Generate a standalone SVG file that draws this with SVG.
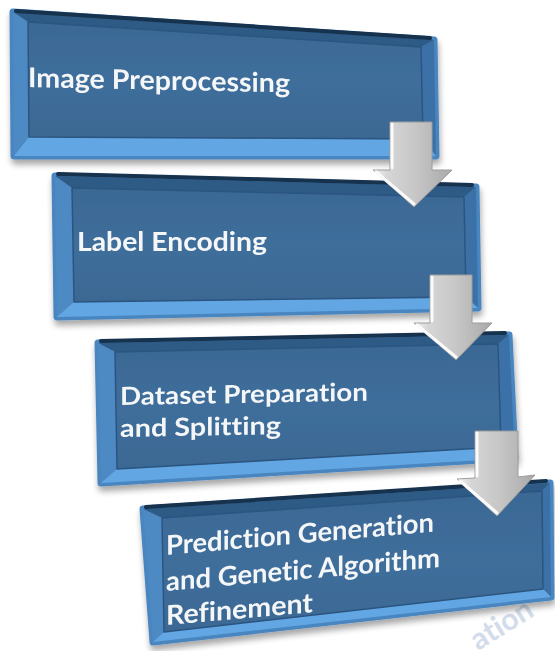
<svg xmlns="http://www.w3.org/2000/svg" width="555" height="651" viewBox="0 0 555 651">
  <defs>
    <filter id="drop" x="-10%" y="-10%" width="120%" height="130%">
      <feGaussianBlur in="SourceAlpha" stdDeviation="3"/>
      <feOffset dx="1" dy="5" result="b"/>
      <feComponentTransfer><feFuncA type="linear" slope="0.35"/></feComponentTransfer>
      <feMerge><feMergeNode/><feMergeNode in="SourceGraphic"/></feMerge>
    </filter>
    <filter id="soft" x="-5%" y="-5%" width="110%" height="110%">
      <feGaussianBlur stdDeviation="0.7"/>
    </filter>
    <linearGradient id="arrowFace" x1="0" y1="0" x2="1" y2="0">
      <stop offset="0" stop-color="#f6f6f6"/>
      <stop offset="0.18" stop-color="#d6d6d6"/>
      <stop offset="0.55" stop-color="#c6c6c6"/>
      <stop offset="1" stop-color="#a9a9a9"/>
    </linearGradient>
    <linearGradient id="faceGrad" x1="0" y1="0" x2="0" y2="1">
      <stop offset="0" stop-color="#3a6894"/>
      <stop offset="0.5" stop-color="#3f6e9b"/>
      <stop offset="1" stop-color="#3b6893"/>
    </linearGradient>
  </defs>
  <style>
    .outer { fill: #4a86c0; stroke: #4a86c0; stroke-width: 7; stroke-linejoin: round; }
    .topb { fill: #2e5a86; }
    .topline { fill: none; stroke: #15304d; stroke-width: 4; stroke-linecap: round; }
    .leftb { fill: #4d8ac4; }
    .rightb { fill: #3a71a7; }
    .botb { fill: #62a7e3; }
    .face { fill: url(#faceGrad); stroke: #2c5580; stroke-width: 1.5; stroke-linejoin: round; }
    .label { font-family: Lato, "Open Sans", "Liberation Sans", sans-serif; font-weight: bold; font-size: 27px; fill: #f4f6f8; font-variant-ligatures: none; }
    .label.tight { font-size: 25px; }
    .arrow { fill: url(#arrowFace); stroke: #9c9c9c; stroke-width: 1; stroke-linejoin: round; }
    .hl { fill: none; stroke: #ffffff; stroke-width: 3; stroke-linejoin: round; stroke-linecap: round; opacity: 0.9; }
    .mark { font-family: Lato, "Liberation Sans", sans-serif; font-weight: bold; font-size: 30px; fill: #d2dcea; font-variant-ligatures: none; }
  </style>

  <!-- faint watermark fragment -->
  <text class="mark" transform="translate(478,651) rotate(-32)">ation</text>

  <!-- step 1 -->
  <g id="step-1" filter="url(#drop)">
    <g filter="url(#soft)">
      <polygon class="outer" points="13,12 434,40 436,156 14,156"/>
      <polygon class="topb" points="13,12 434,40 421,47 28,22"/>
      <polygon class="leftb" points="13,12 28,22 29,137 14,156"/>
      <polygon class="rightb" points="434,40 436,156 423,139 421,47"/>
      <polygon class="botb" points="14,156 436,156 423,139 29,137"/>
      <polygon class="face" points="28,22 421,47 423,139 29,137"/>
      <line class="topline" x1="16" y1="11" x2="430" y2="38"/>
    </g>
    <text class="label" transform="translate(28,87) skewY(1.2)" textLength="262" lengthAdjust="spacingAndGlyphs">Image Preprocessing</text>
  </g>

  <!-- step 2 -->
  <g id="step-2" filter="url(#drop)">
    <g filter="url(#soft)">
      <polygon class="outer" points="55,176 476,187 478,308 57,317"/>
      <polygon class="topb" points="55,176 476,187 464,197 72,188"/>
      <polygon class="leftb" points="55,176 72,188 74,302 57,317"/>
      <polygon class="rightb" points="476,187 478,308 466,297 464,197"/>
      <polygon class="botb" points="57,317 478,308 466,297 74,302"/>
      <polygon class="face" points="72,188 464,197 466,297 74,302"/>
      <line class="topline" x1="58" y1="174" x2="472" y2="185"/>
    </g>
    <text class="label" x="77" y="251" textLength="190" lengthAdjust="spacingAndGlyphs">Label Encoding</text>
  </g>

  <!-- step 3 -->
  <g id="step-3" filter="url(#drop)">
    <g filter="url(#soft)">
      <polygon class="outer" points="98,343 509,335 515,458 101,483"/>
      <polygon class="topb" points="98,343 509,335 498,344 115,352"/>
      <polygon class="leftb" points="98,343 115,352 117,469 101,483"/>
      <polygon class="rightb" points="509,335 515,458 501,447 498,344"/>
      <polygon class="botb" points="101,483 515,458 501,447 117,469"/>
      <polygon class="face" points="115,352 498,344 501,447 117,469"/>
      <line class="topline" x1="101" y1="341" x2="505" y2="333"/>
    </g>
    <text class="label tight" transform="translate(120,405) skewY(-1)" textLength="248" lengthAdjust="spacingAndGlyphs">Dataset Preparation</text>
    <text class="label tight" transform="translate(120,437) skewY(-1)" textLength="161" lengthAdjust="spacingAndGlyphs">and Splitting</text>
  </g>

  <!-- step 4 -->
  <g id="step-4" filter="url(#drop)">
    <g filter="url(#soft)">
      <polygon class="outer" points="143,509 550,483 551,597 153,642"/>
      <polygon class="topb" points="143,509 550,483 542,491 162,518"/>
      <polygon class="leftb" points="143,509 162,518 164,632 153,642"/>
      <polygon class="rightb" points="550,483 551,597 543,589 542,491"/>
      <polygon class="botb" points="153,642 551,597 543,589 164,632"/>
      <polygon class="face" points="162,518 542,491 543,589 164,632"/>
      <line class="topline" x1="146" y1="507" x2="546" y2="481"/>
    </g>
    <text class="label" transform="translate(166,555) skewY(-5)" textLength="268" lengthAdjust="spacingAndGlyphs">Prediction Generation</text>
    <text class="label" transform="translate(166,591) skewY(-5)" textLength="274" lengthAdjust="spacingAndGlyphs">and Genetic Algorithm</text>
    <text class="label" transform="translate(166,625) skewY(-5)" textLength="147" lengthAdjust="spacingAndGlyphs">Refinement</text>
  </g>

  <!-- connectors: 3D down arrows between steps -->
  <g id="connectors" filter="url(#soft)">
    <g id="arrow-1-2">
      <polygon class="arrow" points="390,122 432,122 432,170 452,170 414,207 373,170 390,170"/>
      <polyline class="hl" points="392,168 392,124"/>
      <polyline class="hl" points="376,172 414,204"/>
    </g>
    <g id="arrow-2-3">
      <polygon class="arrow" points="430,275 472,275 472,323 492,323 456,360 414,323 430,323"/>
      <polyline class="hl" points="432,321 432,277"/>
      <polyline class="hl" points="417,325 456,357"/>
    </g>
    <g id="arrow-3-4">
      <polygon class="arrow" points="475,431 518,431 518,477 535,475 497,516 457,479 475,478"/>
      <polyline class="hl" points="477,476 477,433"/>
      <polyline class="hl" points="460,481 497,513"/>
    </g>
  </g>
</svg>
